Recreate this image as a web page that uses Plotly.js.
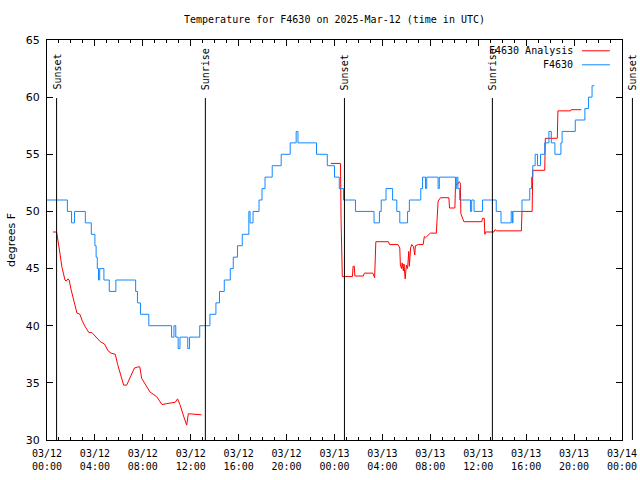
<!DOCTYPE html>
<html>
<head>
<meta charset="utf-8">
<script src="https://cdn.plot.ly/plotly-3.0.1.min.js"></script>
<style>body{margin:0;padding:0;background:#fff}#chart{width:640px;height:480px}</style>
</head>
<body>
<div id="chart"></div>
<script>
// ---- data (hours after 2025-03-12 00:00 UTC) ----
var startDate = Date.UTC(2025, 2, 12, 0, 0, 0);
var rangeHours = [0, 48];

var obsName = 'F4630';
var obsHours = [0.0, 1.7, 2.05, 2.3, 3.2, 3.7, 4.0, 4.1, 4.2, 4.3, 4.4, 4.75, 5.2, 5.75, 7.4, 7.55, 7.8, 8.5, 10.4, 10.6, 10.75, 10.95, 11.1, 11.75, 11.9, 12.75, 13.6, 14.1, 14.4, 14.8, 15.3, 15.55, 15.9, 16.3, 16.85, 16.95, 17.2, 17.7, 17.95, 18.2, 18.8, 19.55, 20.3, 20.8, 20.95, 22.5, 23.4, 24.0, 24.4, 24.75, 25.75, 27.3, 27.75, 27.9, 28.3, 28.85, 29.2, 29.45, 30.1, 30.25, 31.2, 31.35, 31.6, 31.7, 32.65, 32.75, 34.1, 34.2, 34.3, 34.45, 35.35, 35.45, 35.65, 36.35, 37.5, 37.9, 38.75, 38.85, 38.9, 39.65, 40.3, 40.45, 40.55, 40.75, 40.95, 41.2, 41.55, 41.9, 42.1, 42.4, 42.9, 43.0, 44.1, 44.9, 45.2, 45.5, 45.6, 45.7];
var obsTemps = [51, 50, 49, 50, 49, 48, 47, 46, 45, 44, 45, 44, 43, 44, 43, 42, 41, 40, 39, 40, 39, 38, 39, 38, 39, 40, 41, 42, 43, 44, 45, 46, 47, 48, 50, 49, 50, 51, 52, 53, 54, 55, 56, 57, 56, 55, 54, 53, 52, 51, 50, 49, 50, 51, 52, 51, 50, 49, 50, 51, 52, 53, 52, 53, 52, 53, 52, 53, 52, 51, 50, 51, 50, 51, 50, 49, 50, 49, 50, 51, 52, 53, 54, 55, 54, 55, 56, 57, 56, 55, 56, 57, 58, 59, 60, 61, 61, 61];

var anaName = 'F4630 Analysis';
var anaHours = [0.5, 0.8, 1.0, 1.1, 1.25, 1.5, 1.6, 1.75, 1.85, 2.0, 2.25, 2.5, 2.75, 2.95, 3.2, 3.5, 3.75, 4.15, 4.45, 4.8, 5.1, 5.35, 5.7, 5.9, 6.2, 6.4, 6.65, 6.95, 7.3, 7.6, 7.75, 7.9, 8.2, 8.6, 9.15, 9.6, 10.1, 10.7, 10.9, 11.1, 11.4, 11.66, 11.8, 12.9,
  18.0,
  23.7, 24.5, 24.55, 24.65, 25.5, 25.55, 25.65, 25.7, 26.4, 26.5, 27.2, 27.35, 27.45, 28.5, 28.6, 29.3, 29.45, 29.5, 29.6, 29.65, 29.75, 29.8, 29.9, 30.0, 30.1, 30.2, 30.25, 30.35, 30.45, 30.6, 30.7, 30.75, 31.0, 31.4, 31.5, 31.6, 31.8, 32.0, 32.5, 32.55, 32.65, 32.85, 33.55, 33.6, 34.05, 34.1, 34.3, 34.4, 34.5, 34.55, 34.65, 34.8, 36.3, 36.35, 36.5, 36.55, 36.6, 37.3, 37.4, 37.55, 39.6, 39.65, 40.5, 40.55, 41.55, 41.6, 42.6, 42.65, 43.7, 43.75, 44.6];
var anaTemps = [48.2, 48.2, 46.9, 46.3, 45.1, 44.0, 43.9, 44.1, 44.0, 43.2, 42.0, 41.1, 41.0, 40.4, 39.9, 39.4, 39.4, 38.9, 38.6, 38.4, 37.8, 37.6, 37.5, 36.6, 35.6, 34.8, 34.8, 35.5, 36.3, 36.4, 36.4, 35.4, 34.9, 34.2, 33.8, 33.1, 33.2, 33.3, 33.6, 33.1, 32.1, 31.3, 32.3, 32.2,
  null,
  54.2, 54.2, 49.2, 44.3, 44.3, 45.2, 45.2, 44.35, 44.35, 44.6, 44.6, 44.2, 47.35, 47.35, 47.1, 47.1, 46.8, 45.3, 45.0, 45.5, 44.8, 45.4, 44.1, 45.3, 45.0, 46.5, 45.2, 46.8, 47.1, 46.9, 46.2, 47.0, 47.1, 47.1, 47.8, 47.7, 47.9, 48.1, 48.1, 49.5, 50.9, 51.2, 51.2, 50.3, 50.3, 52.3, 52.4, 52.6, 52.5, 49.8, 49.5, 49.1, 49.1, 49.4, 49.4, 48.0, 48.2, 48.2, 48.4, 48.3, 48.3, 50.0, 50.0, 53.6, 53.6, 56.4, 56.4, 58.8, 58.8, 58.9, 58.9];

var sunHours = [0.8, 13.22, 24.83, 37.18, 48.87];
var sunLabels = ['Sunset', 'Sunrise', 'Sunset', 'Sunrise', 'Sunset'];

var yRange = [30, 65];
var titleText = 'Temperature for F4630 on 2025-Mar-12 (time in UTC)';
var yTitle = 'degrees F';

// ---- helpers ----
function toDate(h) {
  if (h === null) return null;
  var d = new Date(startDate + Math.round(h * 3600000));
  return d.toISOString().slice(0, 19).replace('T', ' ');
}
var mono = 'DejaVu Sans Mono, Liberation Mono, monospace';
var sans = 'DejaVu Sans, Liberation Sans, sans-serif';
var redC = '#ff0000', blueC = '#1188ff';

var traces = [
  {x: anaHours.map(toDate), y: anaTemps, name: anaName, type: 'scatter', mode: 'lines',
   line: {color: redC, width: 1}, connectgaps: false},
  {x: obsHours.map(toDate), y: obsTemps, name: obsName, type: 'scatter', mode: 'lines',
   line: {color: blueC, width: 1, shape: 'hv'}}
];

var span = rangeHours[1] - rangeHours[0];
var shapes = [], annotations = [];
sunHours.forEach(function (h, i) {
  var px = (h - rangeHours[0]) / span;
  shapes.push({type: 'line', xref: 'paper', yref: 'paper', x0: px, x1: px, y0: 0, y1: 0.855,
    line: {color: '#000', width: 1}});
  annotations.push({xref: 'paper', yref: 'paper', x: px, y: 0.87, text: sunLabels[i],
    textangle: -90, showarrow: false, xanchor: 'center', yanchor: 'bottom',
    font: {family: mono, size: 10, color: '#000'}});
});

// legend (gnuplot style: text right, sample on the right)
var legendRows = [{name: anaName, color: redC, y: 0.973}, {name: obsName, color: blueC, y: 0.938}];
legendRows.forEach(function (r) {
  annotations.push({xref: 'paper', yref: 'paper', x: 0.918, y: r.y, text: r.name, showarrow: false,
    xanchor: 'right', yanchor: 'middle', font: {family: mono, size: 10, color: '#000'}});
  shapes.push({type: 'line', xref: 'paper', yref: 'paper', x0: 0.9304, x1: 0.979, y0: r.y, y1: r.y,
    line: {color: r.color, width: 1}});
});

var layout = {
  width: 640, height: 480,
  margin: {l: 47, r: 18, t: 40, b: 40, pad: 0},
  paper_bgcolor: '#fff', plot_bgcolor: '#fff',
  showlegend: false,
  title: {text: titleText, font: {family: mono, size: 10, color: '#000'},
    x: 0.5, xref: 'paper', xanchor: 'center', y: 0.9604, yref: 'container', yanchor: 'middle'},
  xaxis: {
    type: 'date', range: [toDate(rangeHours[0]), toDate(rangeHours[1])],
    tick0: toDate(rangeHours[0]), dtick: 4 * 3600000, tickformat: '%m/%d<br>%H:%M',
    ticks: 'inside', ticklen: 6, tickcolor: '#000', tickwidth: 1,
    showline: true, linecolor: '#000', linewidth: 1, mirror: 'ticks',
    showgrid: false, zeroline: false, automargin: false, ticklabelstandoff: 4,
    tickfont: {family: mono, size: 10, color: '#000'},
    minor: {dtick: 3600000, ticks: 'inside', ticklen: 3, tickcolor: '#000', showgrid: false}
  },
  yaxis: {
    range: yRange, dtick: 5, tick0: 30,
    ticks: 'inside', ticklen: 6, tickcolor: '#000', tickwidth: 1,
    showline: true, linecolor: '#000', linewidth: 1, mirror: 'ticks',
    showgrid: false, zeroline: false, automargin: false, ticklabelstandoff: 4,
    tickfont: {family: sans, size: 11, color: '#000'},
    title: {text: yTitle, font: {family: sans, size: 11, color: '#000'}, standoff: 7}
  },
  shapes: shapes,
  annotations: annotations
};

Plotly.newPlot('chart', traces, layout, {staticPlot: true, displayModeBar: false});
</script>
</body>
</html>
